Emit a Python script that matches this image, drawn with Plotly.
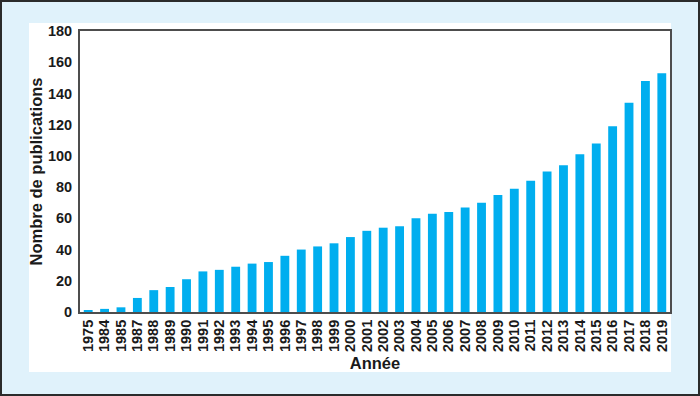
import plotly.graph_objects as go

years = ["1975", "1984", "1985", "1987", "1988", "1989", "1990", "1991", "1992",
         "1993", "1994", "1995", "1996", "1997", "1998", "1999", "2000", "2001",
         "2002", "2003", "2004", "2005", "2006", "2007", "2008", "2009", "2010",
         "2011", "2012", "2013", "2014", "2015", "2016", "2017", "2018", "2019"]
publications = [1, 2, 3, 9, 14, 16, 21, 26, 27,
                29, 31, 32, 36, 40, 42, 44, 48, 52,
                54, 55, 60, 63, 64, 67, 70, 75, 79,
                84, 90, 94, 101, 108, 119, 134, 148, 153]
y_ticks = [0, 20, 40, 60, 80, 100, 120, 140, 160, 180]

W, H = 700, 396
L, R, T, B = 80, 670, 31, 312  # plot area in pixels


def px_x(px):
    return (px - L) / (R - L)


def px_y(py):
    return (B - py) / (B - T)


FONT = "Liberation Sans, Arial, Helvetica, sans-serif"
BAR = "#00AEEF"
AXIS = "#4d4d4d"
TXT = "#1a1a1a"

fig = go.Figure(go.Bar(x=years, y=publications, marker=dict(color=BAR, line=dict(width=0)),
                       width=0.54))

fig.update_layout(
    width=W, height=H,
    margin=dict(l=L, r=W - R, t=T, b=H - B, autoexpand=False),
    paper_bgcolor="#E0F2FB",
    plot_bgcolor="white",
    showlegend=False,
    font=dict(family=FONT, color=TXT, size=14, weight="bold"),
    shapes=[
        dict(type="rect", xref="paper", yref="paper", layer="below",
             x0=px_x(29), x1=px_x(671), y0=px_y(372), y1=px_y(23),
             fillcolor="white", line=dict(width=0)),
        dict(type="rect", xref="paper", yref="paper", layer="above",
             x0=px_x(1), x1=px_x(699), y0=px_y(395), y1=px_y(1),
             fillcolor="rgba(0,0,0,0)", line=dict(color="#2b2b2b", width=2)),
    ],
)

fig.update_xaxes(
    type="category", range=[-0.5, len(years) - 0.5], automargin=False,
    tickmode="array", tickvals=years, ticktext=years,
    tickangle=-90, ticks="", showgrid=False,
    showline=True, mirror=True, linecolor=AXIS, linewidth=2,
    tickfont=dict(family=FONT, size=14.5, weight="bold", color=TXT),
    title=dict(text="Année", font=dict(family=FONT, size=16.5, weight="bold", color=TXT),
               standoff=6),
)
fig.update_yaxes(
    range=[0, 180], tickmode="array", tickvals=y_ticks, automargin=False,
    ticks="", showgrid=False, zeroline=False,
    showline=True, mirror=True, linecolor=AXIS, linewidth=2,
    tickfont=dict(family=FONT, size=14.5, weight="bold", color=TXT),
    ticklabelstandoff=3,
    title=dict(text="Nombre de publications",
               font=dict(family=FONT, size=16.5, weight="bold", color=TXT),
               standoff=1),
)

fig.write_html("out.html", config={"displayModeBar": False},
               post_script="document.body.style.margin='0';document.body.style.padding='0';")
